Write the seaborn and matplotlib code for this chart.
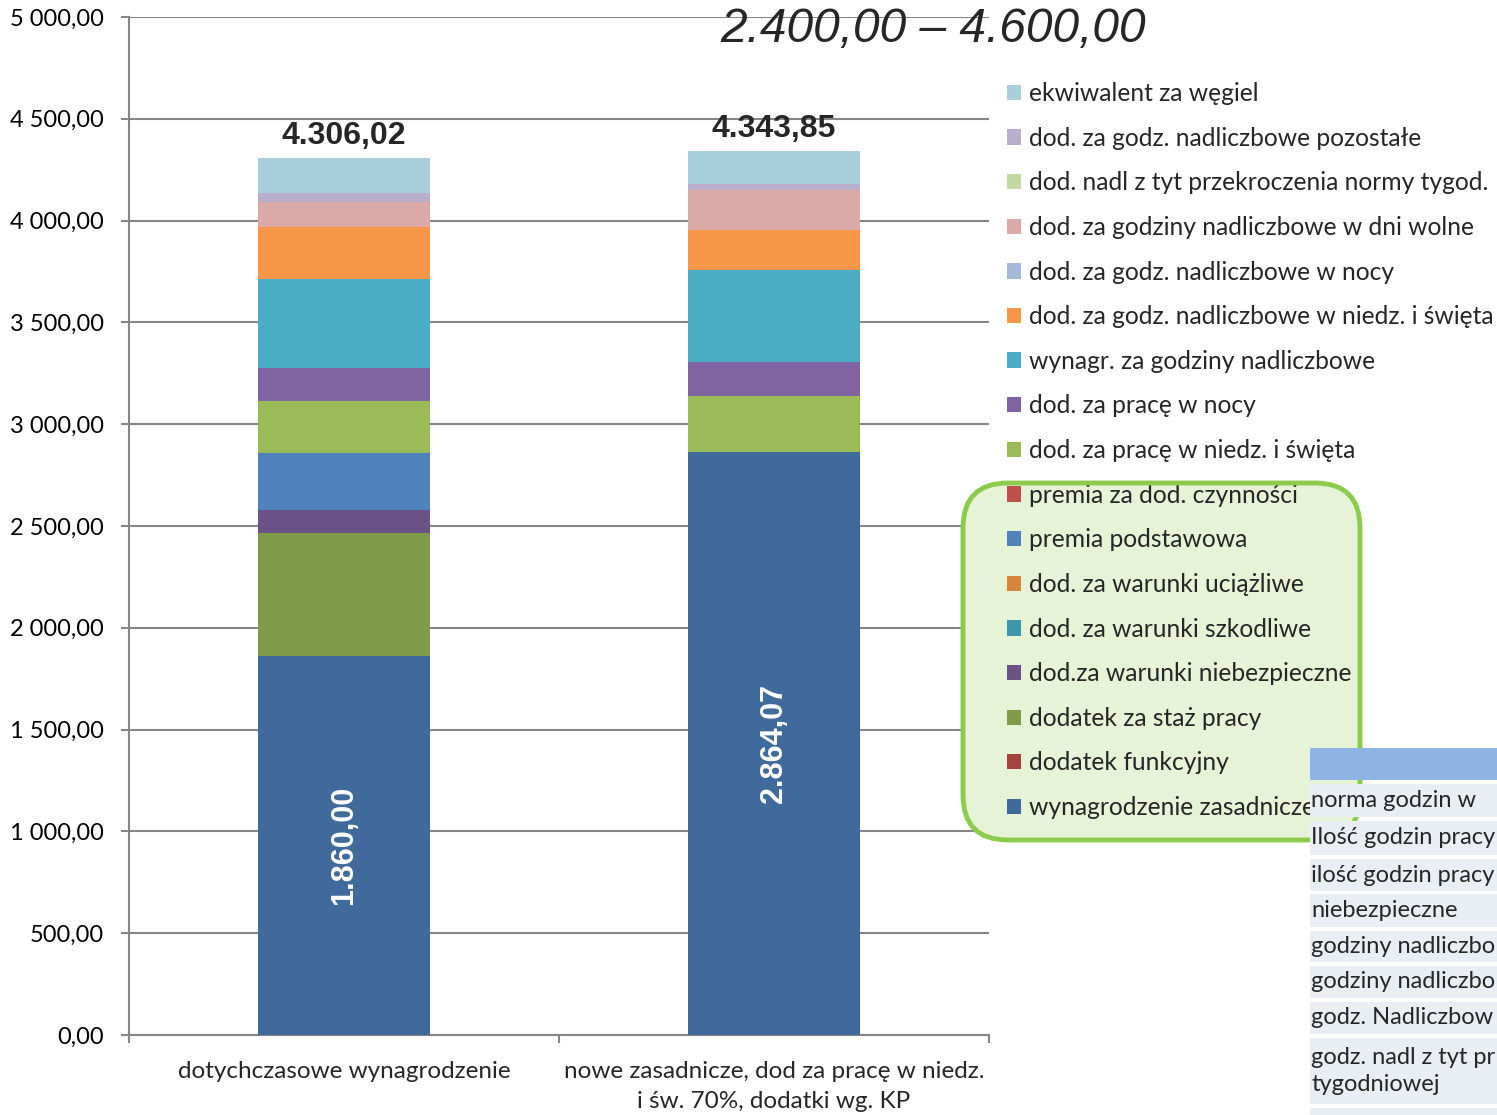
import numpy as np
import pandas as pd
import matplotlib
matplotlib.use("Agg")
import matplotlib.pyplot as plt
import seaborn as sns
from matplotlib.patches import Patch, Rectangle, FancyBboxPatch
from matplotlib.transforms import IdentityTransform

# dane: składniki wynagrodzenia (od dołu słupka do góry)
kategorie = ["dotychczasowe wynagrodzenie",
             "nowe zasadnicze, dod za pracę w niedz.\ni św. 70%, dodatki wg. KP"]

skladniki = [
    "wynagrodzenie zasadnicze",
    "dodatek funkcyjny",
    "dodatek za staż pracy",
    "dod.za warunki niebezpieczne",
    "dod. za warunki szkodliwe",
    "dod. za warunki uciążliwe",
    "premia podstawowa",
    "premia za dod. czynności",
    "dod. za pracę w niedz. i święta",
    "dod. za pracę w nocy",
    "wynagr. za godziny nadliczbowe",
    "dod. za godz. nadliczbowe w niedz. i święta",
    "dod. za godz. nadliczbowe w nocy",
    "dod. za godziny nadliczbowe w dni wolne",
    "dod. nadl z tyt przekroczenia normy tygod.",
    "dod. za godz. nadliczbowe pozostałe",
    "ekwiwalent za węgiel",
]

dotychczasowe = [1860.00, 0, 604.50, 113.00, 0, 0, 280.00, 0,
                 255.00, 162.00, 439.00, 254.00, 0, 126.00, 0, 44.00, 168.52]
nowe = [2864.07, 0, 0, 0, 0, 0, 0, 0,
        275.00, 164.00, 454.00, 196.00, 0, 196.00, 0, 31.00, 163.78]

kolory = ["#406A9B", "#A5443F", "#7F9A48", "#6A5286", "#3C97AB", "#D8853B",
          "#4F81BD", "#C0504D", "#9BBB59", "#8064A2", "#4BACC6", "#F79646",
          "#A7B9DB", "#DBA9A8", "#C4D8A5", "#B8ADCB", "#A9CEDC"]

# widoczny (ucięty) fragment tabeli z prawego dolnego rogu
tabela_wiersze = ["norma godzin w", "Ilość godzin pracy",
                  "ilość godzin pracy", "niebezpieczne",
                  "godziny nadliczbo", "godziny nadliczbo",
                  "godz. Nadliczbow", "godz. nadl z tyt pr\ntygodniowej"]


def pl(v, sep="."):
    s = f"{v:,.2f}".replace(",", " ").replace(".", ",")
    return s.replace(" ", sep)


df = pd.DataFrame({"kat": kategorie})
wartosci = np.array([dotychczasowe, nowe])
cum = np.cumsum(wartosci, axis=1)

sns.set_style("white")
plt.rcParams["font.family"] = ["Lato", "DejaVu Sans"]
plt.rcParams["hatch.linewidth"] = 0.7
plt.rcParams["hatch.color"] = "#B9DE98"

W, H = 1497, 1115
fig = plt.figure(figsize=(W / 100, H / 100), dpi=100)
ax = fig.add_axes([129 / W, 1 - 1035 / H, 860 / W, 1018 / H])

# słupki skumulowane: rysujemy od najwyższej sumy w dół
for i in reversed(range(len(skladniki))):
    df["y"] = cum[:, i]
    sns.barplot(data=df, x="kat", y="y", color=kolory[i], width=0.4,
                saturation=1, errorbar=None, linewidth=0, ax=ax, zorder=3)

ax.set_xlim(-0.5, 1.5)
ax.set_ylim(0, 5000)
ax.set_xlabel("")
ax.set_ylabel("")
ax.set_yticks(np.arange(0, 5001, 500))
ax.set_yticklabels([pl(v, " ") for v in np.arange(0, 5001, 500)], fontsize=17)
ax.grid(axis="y", color="#868686", linewidth=1.5, zorder=0)
ax.set_axisbelow(True)
for s in ["top", "right"]:
    ax.spines[s].set_visible(False)
for s in ["left", "bottom"]:
    ax.spines[s].set_color("#868686")
    ax.spines[s].set_linewidth(1.5)
ax.tick_params(axis="y", left=True, length=6, width=1.5, color="#868686",
               pad=12, labelcolor="black")
ax.set_xticks([0, 1])
ax.set_xticklabels(kategorie, fontsize=17.5, linespacing=1.5)
ax.set_xticks([-0.5, 0.5, 1.5], minor=True)
ax.tick_params(axis="x", which="major", length=0, pad=19)
ax.tick_params(axis="x", which="minor", bottom=True, length=6, width=1.5,
               color="#868686")

# etykiety: sumy nad słupkami i wynagrodzenie zasadnicze w środku
sumy = wartosci.sum(axis=1)
for j, tot in enumerate(sumy):
    ax.annotate(pl(tot), (j, tot), xytext=(0, 5), textcoords="offset points",
                ha="center", va="bottom", fontsize=23, fontweight="bold",
                family="Liberation Sans")
    ax.text(j, wartosci[j, 0] / 2, pl(wartosci[j, 0]), rotation=90,
            ha="center", va="center", color="white", fontsize=22,
            fontweight="bold", family="Liberation Sans", zorder=5)

fig.text(720 / W, 1 - 29 / H, "2.400,00 – 4.600,00", fontsize=34.5,
         style="italic", family="Liberation Sans", ha="left", va="center")

# zielona ramka z siatką nachodząca na legendę
tr = IdentityTransform()
ramka = dict(boxstyle="round,pad=0,rounding_size=45", transform=tr)
fig.patches.append(FancyBboxPatch((963, H - 840), 397, 357,
                                  facecolor="#E6F3D6", edgecolor="none",
                                  zorder=4, **ramka))

# legenda w odwrotnej kolejności (jak w Excelu)
handles = [Patch(facecolor=kolory[i], edgecolor="none")
           for i in reversed(range(len(skladniki)))]
labels = list(reversed(skladniki))
fig.legend(handles, labels, loc="upper left",
           bbox_to_anchor=(1007 / W, 1 - 82 / H), frameon=False,
           fontsize=17.7, handlelength=0.58, handleheight=0.58,
           handletextpad=0.3, labelspacing=0.88, borderpad=0,
           borderaxespad=0)

fig.patches.append(FancyBboxPatch((963, H - 840), 397, 357,
                                  facecolor="none", hatch="+" * 5,
                                  edgecolor="none", alpha=0.8,
                                  zorder=6, **ramka))
fig.patches.append(FancyBboxPatch((963, H - 840), 397, 357,
                                  facecolor="none", edgecolor="#8CCB4C",
                                  linewidth=3.5, zorder=6, **ramka))

# fragment tabeli
fig.patches.append(Rectangle((1310, H - 780), 200, 32, facecolor="#8DB4E2",
                             edgecolor="none", transform=tr, zorder=7))
rzedy = [(784, 817), (821, 855), (859, 891), (894, 927), (931, 962),
         (966, 998), (1002, 1034), (1038, 1104), (1108, 1140)]
for k, (y0, y1) in enumerate(rzedy):
    fig.patches.append(Rectangle((1310, H - y1), 200, y1 - y0,
                                 facecolor="#E9EDF4", edgecolor="none",
                                 transform=tr, zorder=7))
    if k < len(tabela_wiersze):
        fig.text(1311 / W, 1 - (y0 + y1) / 2 / H, tabela_wiersze[k],
                 fontsize=17, ha="left", va="center", linespacing=1.35,
                 zorder=8)

fig.savefig("out.png", dpi=100)
